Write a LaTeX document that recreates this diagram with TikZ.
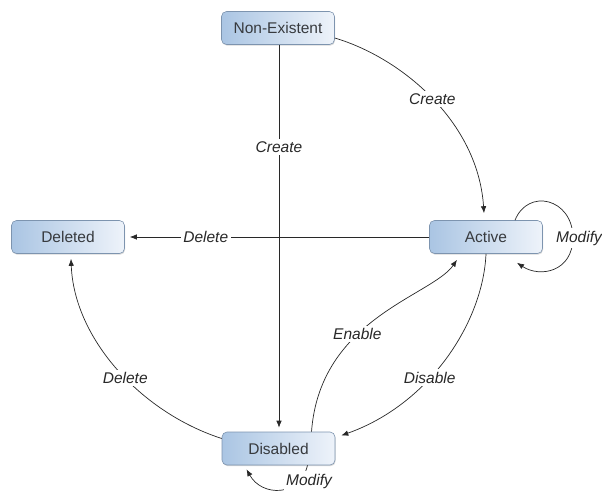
\documentclass[tikz,border=0pt]{standalone}
\usepackage{fontspec}
\setmainfont{Liberation Sans}
\usetikzlibrary{arrows.meta,shadows}
\definecolor{boxL}{RGB}{170,197,227}
\definecolor{boxR}{RGB}{238,243,250}
\definecolor{boxD}{RGB}{125,148,175}
\definecolor{ink}{RGB}{40,40,40}
\definecolor{txt}{RGB}{55,58,62}
\begin{document}
\begin{tikzpicture}[x=1pt,y=-1pt,
  state/.style={draw=boxD, line width=0.6pt, rounded corners=5pt,
    left color=boxL, right color=boxR, minimum width=113pt, minimum height=33pt,
    font=\fontsize{15.5}{18}\selectfont, text=txt,
    drop shadow={opacity=0.3, shadow xshift=0.6pt, shadow yshift=-1.2pt}},
  edge/.style={draw=ink, line width=0.7pt, -{Latex[length=7pt,width=5.5pt]}},
  loopline/.style={draw=ink, line width=0.7pt, -{Latex[length=7pt,width=5.5pt]}},
  lbl/.style={fill=white, inner sep=2.5pt, font=\itshape\fontsize{15.5}{18}\selectfont, text=ink}]
\useasboundingbox (0,0) rectangle (602,490);
\clip (0,0) rectangle (602,490);

\node[state] (ne)  at (278,28)      {Non-Existent};
\node[state] (act) at (486,237)     {Active};
\node[state] (del) at (68,237)      {Deleted};
\node[state] (dis) at (278.5,448.5) {Disabled};

% Non-Existent -> Active
\draw[edge] ([yshift=-10pt]ne.east) .. controls (402,58) and (478,122) ..
  node[lbl, pos=0.5] (lc1) {Create} ([xshift=-2pt,yshift=7pt]act.north);

% Non-Existent -> Disabled
\draw[edge, shorten >=4pt] ([xshift=1pt]ne.south) -- node[lbl, pos=0.265] (lc2) {Create} ([xshift=0.5pt]dis.north);

% Active -> Deleted
\draw[edge, shorten >=5pt] (act.west) -- node[lbl, pos=0.734] (ld1) {Delete} (del.east);

% Active self loop
\draw[loopline] ([xshift=29pt]act.north) .. controls (528,188) and (572,198) .. (573,237)
  .. controls (573,272) and (540,278) .. ([xshift=31pt,yshift=-9pt]act.south);
\node[lbl] (lm1) at (579,238) {Modify};

% Active -> Disabled
\draw[edge] (act.south) .. controls (483,322) and (430,404) ..
  node[lbl, pos=0.6] (ldis) {Disable} ([xshift=6pt,yshift=13pt]dis.east);

% Disabled -> Active
\draw[edge] ([xshift=33pt]dis.north) .. controls (320,318) and (432,296) ..
  node[lbl, pos=0.39] (len) {Enable} ([xshift=-29pt,yshift=-6pt]act.south);

% Disabled -> Deleted
\draw[edge] ([yshift=10pt]dis.west) .. controls (140,412) and (74,338) ..
  node[lbl, pos=0.45] (ld2) {Delete} ([xshift=3pt,yshift=-5pt]del.south);

% Disabled self loop
\draw[loopline] ([xshift=29pt]dis.south) .. controls (300,497) and (262,497) .. ([xshift=-32pt,yshift=-4pt]dis.south);
\node[lbl] (lm2) at (309,481) {Modify};
\end{tikzpicture}
\end{document}
